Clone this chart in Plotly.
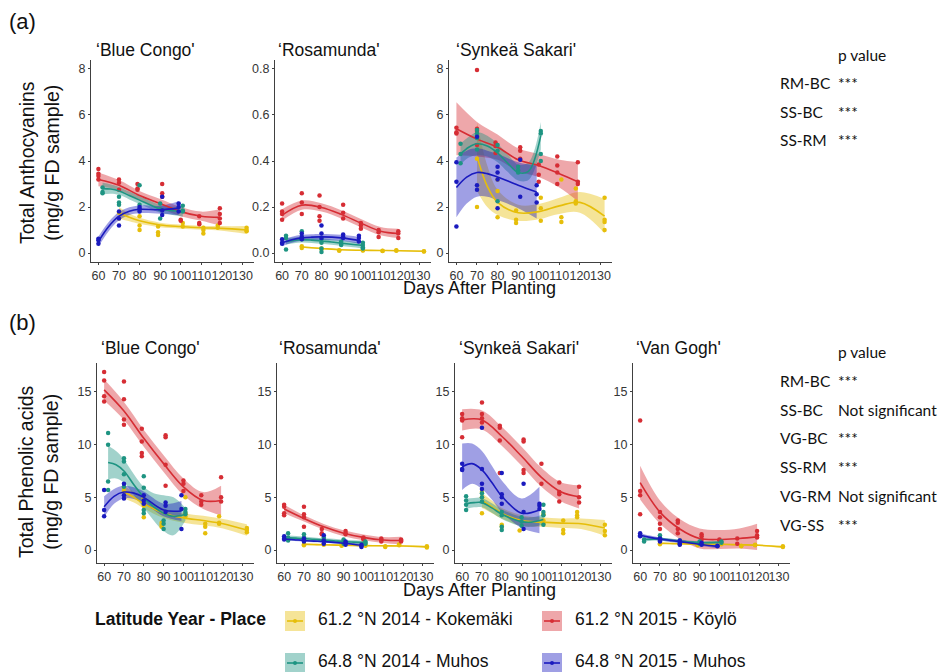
import plotly.graph_objects as go

# ---------------------------------------------------------------------------
# Sampling days of the four field trials
KOK_DAYS = [70, 80, 89, 101, 111, 118, 132]   # 61.2 N 2014 Kokemaki
KOY_DAYS = [60, 70, 79, 91, 100, 109, 119]    # 61.2 N 2015 Koylo
M14_DAYS = [62, 70, 80, 90, 101]              # 64.8 N 2014 Muhos
M15_DAYS = [60, 70, 80, 91, 99]               # 64.8 N 2015 Muhos

# Days at which the smoothed (loess) fits and their bands are tabulated
KOK_FIT_DAYS = [70, 75, 80, 90, 100, 110, 120, 132]
KOY_FIT_DAYS = [60, 70, 80, 90, 100, 110, 119]
M14_FIT_DAYS = [62, 66, 70, 75, 80, 85, 90, 95, 101]
M15_FIT_DAYS = [60, 65, 70, 75, 80, 90, 99]

X_TICKS = [60, 70, 80, 90, 100, 110, 120, 130]

# ---------------------------------------------------------------------------
# (a) Total anthocyanins, 'Blue Congo'
A_BC_KOK_PTS = [[1.75, 1.5], [1.6, 1.2, 1.0], [1.15, 0.9, 0.78], [1.3, 1.15], [1.1, 1.0, 0.85], [1.2, 1.1], [1.1, 1.0, 0.95]]
A_BC_KOK_FIT = [1.75, 1.55, 1.4, 1.22, 1.15, 1.1, 1.07, 1.0]
A_BC_KOK_CI = [0.25, 0.17, 0.13, 0.1, 0.09, 0.09, 0.1, 0.17]
A_BC_KOY_PTS = [[3.65, 3.45, 3.35, 3.2], [3.2, 3.05, 2.75], [3.0, 2.8, 2.75], [3.0, 2.6, 2.45], [1.45, 1.4], [1.6, 1.3, 1.25], [1.95, 1.7, 1.5, 1.3]]
A_BC_KOY_FIT = [3.2, 2.95, 2.5, 2.15, 1.8, 1.6, 1.55]
A_BC_KOY_CI = [0.3, 0.22, 0.2, 0.2, 0.2, 0.2, 0.35]
A_BC_M14_PTS = [[2.85, 2.65, 2.6], [2.45, 2.2, 2.1], [2.95, 2.1, 1.9], [2.15, 1.9, 1.5], [2.05, 1.85, 1.8]]
A_BC_M14_FIT = [2.8, 2.78, 2.7, 2.5, 2.3, 2.1, 1.92, 1.85, 1.8]
A_BC_M14_CI = [0.25, 0.2, 0.17, 0.17, 0.17, 0.17, 0.17, 0.17, 0.22]
A_BC_M15_PTS = [[0.62, 0.55, 0.4], [1.8, 1.5, 1.2], [2.0, 1.9, 1.8], [2.45, 1.85, 1.65], [2.15, 2.0, 1.8]]
A_BC_M15_FIT = [0.5, 1.15, 1.6, 1.82, 1.9, 1.88, 1.95]
A_BC_M15_CI = [0.22, 0.2, 0.18, 0.17, 0.17, 0.17, 0.3]

# (a) Total anthocyanins, 'Rosamunda'
A_RM_KOK_PTS = [[0.03, 0.022], [0.02, 0.018], [0.012, 0.01], [0.012, 0.011], [0.01, 0.009], [0.012, 0.01], [0.008, 0.007]]
A_RM_KOK_FIT = [0.026, 0.023, 0.02, 0.014, 0.012, 0.011, 0.01, 0.008]
A_RM_KOK_CI = [0.004, 0.003, 0.003, 0.002, 0.002, 0.002, 0.002, 0.003]
A_RM_KOY_PTS = [[0.215, 0.18, 0.17, 0.145], [0.26, 0.22, 0.17], [0.25, 0.2, 0.16, 0.14], [0.21, 0.175, 0.15], [0.13, 0.12, 0.105], [0.1, 0.09, 0.07], [0.095, 0.085, 0.065]]
A_RM_KOY_FIT = [0.165, 0.208, 0.198, 0.168, 0.13, 0.095, 0.085]
A_RM_KOY_CI = [0.025, 0.02, 0.018, 0.018, 0.018, 0.018, 0.02]
A_RM_M14_PTS = [[0.075, 0.065, 0.015], [0.095, 0.07, 0.06], [0.06, 0.045, 0.02, 0.005], [0.05, 0.04, 0.035], [0.045, 0.035, 0.025, 0.02]]
A_RM_M14_FIT = [0.05, 0.055, 0.058, 0.056, 0.052, 0.048, 0.043, 0.038, 0.033]
A_RM_M14_CI = [0.013, 0.012, 0.012, 0.012, 0.012, 0.012, 0.012, 0.012, 0.013]
A_RM_M15_PTS = [[0.06, 0.045, 0.04], [0.085, 0.07, 0.06], [0.12, 0.085, 0.065], [0.08, 0.07, 0.065], [0.075, 0.065, 0.05]]
A_RM_M15_FIT = [0.045, 0.058, 0.066, 0.069, 0.07, 0.066, 0.055]
A_RM_M15_CI = [0.015, 0.013, 0.013, 0.013, 0.013, 0.013, 0.015]

# (a) Total anthocyanins, 'Synkea Sakari'
A_SS_KOK_PTS = [[4.1, 2.0], [3.2, 2.7, 1.55], [1.85, 1.45, 1.3], [2.4, 1.95, 1.4], [3.2, 1.55, 1.35], [2.8, 2.25, 2.15], [2.4, 1.45, 1.35, 1.0]]
A_SS_KOK_FIT = [4.2, 2.9, 2.2, 1.75, 1.8, 2.05, 2.2, 1.6]
A_SS_KOK_CI = [1.5, 0.9, 0.55, 0.35, 0.33, 0.35, 0.45, 0.75]
A_SS_KOY_PTS = [[5.45, 5.25, 5.2], [7.95, 5.4, 5.3, 4.7], [4.8, 4.65, 4.35], [4.6, 4.45, 4.1], [3.85, 3.4, 3.1], [4.2, 3.8, 3.5, 3.0], [3.95, 3.1, 3.0]]
A_SS_KOY_FIT = [5.4, 4.95, 4.6, 4.05, 3.8, 3.45, 3.1]
A_SS_KOY_CI = [1.15, 0.75, 0.55, 0.5, 0.5, 0.6, 0.85]
A_SS_M14_PTS = [[4.75, 4.3, 3.9], [5.35, 5.2, 5.0, 4.5], [4.7, 4.45, 2.25], [3.75, 3.6, 3.5], [5.3, 5.2, 4.3, 4.0]]
A_SS_M14_FIT = [4.3, 4.6, 4.75, 4.65, 4.35, 3.9, 3.5, 3.55, 5.1]
A_SS_M14_CI = [0.45, 0.45, 0.5, 0.45, 0.4, 0.38, 0.35, 0.38, 0.6]
A_SS_M15_PTS = [[3.95, 3.1, 1.15], [5.05, 2.95, 2.75], [3.75, 3.5, 3.2, 1.95], [4.05, 2.45], [2.95, 2.55, 2.2]]
A_SS_M15_FIT = [2.85, 3.3, 3.5, 3.45, 3.3, 2.95, 2.65]
A_SS_M15_CI = [1.3, 1.15, 1.05, 1.0, 1.0, 1.0, 1.15]

# (b) Total phenolic acids, 'Blue Congo'
B_BC_KOK_PTS = [[5.9, 5.6], [4.9, 4.2, 3.1], [2.6, 2.4, 2.2], [5.0, 3.5, 3.2], [2.5, 2.2, 1.6], [3.2, 2.6, 2.5], [2.1, 1.9, 1.7]]
B_BC_KOK_FIT = [5.5, 5.0, 4.4, 3.5, 3.05, 2.8, 2.5, 1.9]
B_BC_KOK_CI = [0.6, 0.5, 0.45, 0.45, 0.45, 0.45, 0.45, 0.55]
B_BC_KOY_PTS = [[16.9, 16.1, 14.6, 14.1], [16.0, 14.3, 12.4, 11.9], [11.5, 10.3, 9.2, 8.9], [10.9, 10.7, 8.1, 6.1], [6.6, 6.3, 5.6], [5.2, 4.6, 4.3], [6.9, 5.0, 4.6]]
B_BC_KOY_FIT = [15.2, 13.2, 10.6, 8.2, 6.0, 4.7, 4.7]
B_BC_KOY_CI = [1.0, 0.85, 0.8, 0.8, 0.8, 0.8, 1.4]
B_BC_M14_PTS = [[11.1, 10.0, 6.5, 5.7], [8.7, 8.4, 7.2, 6.0], [7.0, 5.9, 3.8, 3.5], [2.8, 2.5, 2.0], [3.9, 3.6, 3.4]]
B_BC_M14_FIT = [8.3, 8.1, 7.5, 6.2, 5.0, 4.1, 3.5, 3.2, 3.4]
B_BC_M14_CI = [1.6, 1.3, 1.1, 1.0, 1.0, 1.3, 1.7, 1.8, 0.6]
B_BC_M15_PTS = [[5.7, 3.8, 3.2], [6.3, 5.2, 4.9], [5.2, 4.7, 4.4], [4.5, 4.2, 3.6], [5.2, 3.9, 2.0]]
B_BC_M15_FIT = [4.1, 5.1, 5.5, 5.4, 5.0, 3.8, 3.7]
B_BC_M15_CI = [1.0, 0.7, 0.6, 0.55, 0.55, 0.6, 0.95]

# (b) Total phenolic acids, 'Rosamunda'
B_RM_KOK_PTS = [[0.55, 0.45], [0.6, 0.5], [0.45, 0.4], [0.5, 0.4], [0.35, 0.3], [0.55, 0.45], [0.35, 0.25]]
B_RM_KOK_FIT = [0.55, 0.52, 0.5, 0.45, 0.42, 0.4, 0.38, 0.3]
B_RM_KOK_CI = [0.1, 0.08, 0.07, 0.06, 0.06, 0.06, 0.07, 0.1]
B_RM_KOY_PTS = [[4.3, 4.1, 3.5, 3.3], [4.1, 3.4, 3.1, 2.2], [2.0, 1.6, 1.5], [1.8, 1.6, 1.5], [1.2, 1.1, 1.0], [1.1, 0.95, 0.8], [1.0, 0.9, 0.8]]
B_RM_KOY_FIT = [3.9, 3.0, 2.2, 1.6, 1.2, 0.95, 0.9]
B_RM_KOY_CI = [0.4, 0.3, 0.28, 0.28, 0.28, 0.28, 0.35]
B_RM_M14_PTS = [[1.6, 1.2, 0.9], [1.5, 1.2, 1.0], [1.2, 1.0, 0.9], [1.0, 0.8, 0.6], [0.8, 0.7, 0.6]]
B_RM_M14_FIT = [1.15, 1.13, 1.1, 1.02, 0.95, 0.88, 0.8, 0.75, 0.7]
B_RM_M14_CI = [0.22, 0.2, 0.18, 0.18, 0.18, 0.18, 0.18, 0.18, 0.2]
B_RM_M15_PTS = [[1.3, 1.1, 1.0], [1.1, 0.9, 0.8], [1.4, 0.9, 0.6], [0.8, 0.7, 0.5], [0.5, 0.4, 0.3]]
B_RM_M15_FIT = [1.05, 0.98, 0.9, 0.85, 0.8, 0.65, 0.45]
B_RM_M15_CI = [0.15, 0.13, 0.12, 0.12, 0.12, 0.12, 0.15]

# (b) Total phenolic acids, 'Synkea Sakari'
B_SS_KOK_PTS = [[5.5, 5.0, 3.5], [2.4, 2.2], [1.85], [3.4, 2.8, 2.5], [2.8, 1.9, 1.6], [3.6, 3.3, 3.1], [2.4, 1.8, 1.4]]
B_SS_KOK_FIT = [4.7, 4.1, 3.5, 2.8, 2.65, 2.55, 2.5, 2.1]
B_SS_KOK_CI = [0.7, 0.6, 0.5, 0.5, 0.45, 0.45, 0.5, 0.75]
B_SS_KOY_PTS = [[12.9, 12.5, 12.3, 10.7], [14.0, 12.9, 12.5, 12.1], [11.8, 11.6, 10.4, 7.3], [10.5, 10.3, 7.6, 7.3], [8.2, 6.3], [6.4, 5.5, 5.3, 4.6], [6.0, 5.0, 4.5]]
B_SS_KOY_FIT = [12.35, 12.35, 10.8, 8.9, 6.9, 5.5, 5.05]
B_SS_KOY_CI = [1.0, 0.9, 0.9, 0.9, 0.9, 0.9, 1.1]
B_SS_M14_PTS = [[5.1, 4.7, 4.3, 3.8], [5.4, 5.0, 4.6], [3.6, 3.3, 2.2, 1.9], [3.1, 2.7, 2.3], [4.3, 3.6, 3.3, 2.4]]
B_SS_M14_FIT = [4.4, 4.5, 4.5, 4.0, 3.4, 3.0, 2.7, 2.65, 2.9]
B_SS_M14_CI = [0.5, 0.45, 0.45, 0.45, 0.45, 0.45, 0.45, 0.45, 0.5]
B_SS_M15_PTS = [[8.2, 7.7, 7.6], [11.6, 7.7, 6.3, 5.8], [7.3, 5.3, 5.0, 4.4], [6.3, 3.6, 2.0], [4.4, 4.2, 3.9]]
B_SS_M15_FIT = [7.9, 8.2, 7.6, 6.4, 5.1, 3.5, 3.8]
B_SS_M15_CI = [2.2, 1.9, 1.8, 1.6, 1.5, 1.4, 2.2]

# (b) Total phenolic acids, 'Van Gogh'
B_VG_KOK_PTS = [[0.65, 0.55], [0.6, 0.55], [0.5, 0.45], [0.6, 0.55], [0.4, 0.35], [0.5, 0.45], [0.35, 0.3]]
B_VG_KOK_FIT = [0.65, 0.62, 0.6, 0.55, 0.55, 0.5, 0.45, 0.3]
B_VG_KOK_CI = [0.1, 0.08, 0.07, 0.06, 0.06, 0.06, 0.07, 0.1]
B_VG_KOY_PTS = [[12.3, 5.6, 5.2, 3.4], [3.6, 3.1, 2.5, 2.0], [2.8, 2.6, 2.0, 1.6], [1.5, 1.3, 1.0], [1.0, 0.9], [1.1, 0.6], [1.8, 1.4, 1.2]]
B_VG_KOY_FIT = [6.4, 3.6, 2.0, 1.1, 1.0, 1.1, 1.25]
B_VG_KOY_CI = [1.6, 1.1, 0.95, 0.95, 0.9, 0.95, 1.25]
B_VG_M14_PTS = [[1.0, 0.8], [1.4, 1.2, 1.0], [0.9, 0.7], [0.8, 0.6], [0.8, 0.7]]
B_VG_M14_FIT = [1.0, 1.03, 1.05, 0.95, 0.85, 0.77, 0.7, 0.7, 0.75]
B_VG_M14_CI = [0.17, 0.15, 0.14, 0.14, 0.14, 0.14, 0.14, 0.14, 0.16]
B_VG_M15_PTS = [[1.6, 1.4, 1.3], [1.1, 0.9, 0.8], [0.9, 0.6, 0.5], [0.7, 0.5], [0.4, 0.35]]
B_VG_M15_FIT = [1.4, 1.2, 1.05, 0.92, 0.8, 0.55, 0.35]
B_VG_M15_CI = [0.2, 0.17, 0.15, 0.15, 0.15, 0.15, 0.18]

# Pairwise cultivar comparisons
A_PAIRS = ["RM-BC", "SS-BC", "SS-RM"]
A_PVALS = ["***", "***", "***"]
B_PAIRS = ["RM-BC", "SS-BC", "VG-BC", "SS-RM", "VG-RM", "VG-SS"]
B_PVALS = ["***", "Not significant", "***", "***", "Not significant", "***"]

GROUP_KEYS = ["kok", "koy", "m14", "m15"]
GROUP_LABELS = ["61.2 °N 2014 - Kokemäki", "61.2 °N 2015 - Köylö",
                "64.8 °N 2014 - Muhos", "64.8 °N 2015 - Muhos"]

# ---------------------------------------------------------------------------
W, H = 948, 672
FONT = "Liberation Sans, Arial, sans-serif"
TABLE_FONT = "Lato, Open Sans, sans-serif"
AXIS_COLOR = "#404040"
TICK_COLOR = "#363636"
BAND_ALPHA = 0.42

GROUP_STYLE = {
    "kok": dict(rgb=(230, 190, 10), days=KOK_DAYS, fit_days=KOK_FIT_DAYS),
    "koy": dict(rgb=(214, 45, 52), days=KOY_DAYS, fit_days=KOY_FIT_DAYS),
    "m14": dict(rgb=(30, 148, 130), days=M14_DAYS, fit_days=M14_FIT_DAYS),
    "m15": dict(rgb=(26, 26, 190), days=M15_DAYS, fit_days=M15_FIT_DAYS),
}


def rgb(c, a=None):
    if a is None:
        return "rgb(%d,%d,%d)" % c
    return "rgba(%d,%d,%d,%.2f)" % (c[0], c[1], c[2], a)


def px_x(p):
    return p / W


def px_y(p):
    return 1 - p / H


A_Y = dict(range=[-0.39, 8.39], tickvals=[0, 2, 4, 6, 8], ticktext=["0", "2", "4", "6", "8"])
A_Y_RM = dict(range=[-0.039, 0.839], tickvals=[0, 0.2, 0.4, 0.6, 0.8],
              ticktext=["0.0", "0.2", "0.4", "0.6", "0.8"])
B_Y = dict(range=[-1.23, 17.75], tickvals=[0, 5, 10, 15], ticktext=["0", "5", "10", "15"])

# panel boxes in pixels: left, right, top, bottom; title anchor in pixels
PANELS = [
    dict(title="‘Blue Congo'", box=(91, 254, 60, 262), tpos=(94, 50), y=A_Y,
         data={"kok": (A_BC_KOK_PTS, A_BC_KOK_FIT, A_BC_KOK_CI), "koy": (A_BC_KOY_PTS, A_BC_KOY_FIT, A_BC_KOY_CI),
               "m14": (A_BC_M14_PTS, A_BC_M14_FIT, A_BC_M14_CI), "m15": (A_BC_M15_PTS, A_BC_M15_FIT, A_BC_M15_CI)}),
    dict(title="‘Rosamunda'", box=(275, 431, 60, 262), tpos=(276, 50), y=A_Y_RM,
         data={"kok": (A_RM_KOK_PTS, A_RM_KOK_FIT, A_RM_KOK_CI), "koy": (A_RM_KOY_PTS, A_RM_KOY_FIT, A_RM_KOY_CI),
               "m14": (A_RM_M14_PTS, A_RM_M14_FIT, A_RM_M14_CI), "m15": (A_RM_M15_PTS, A_RM_M15_FIT, A_RM_M15_CI)}),
    dict(title="‘Synkeä Sakari'", box=(449, 612, 60, 262), tpos=(454, 50), y=A_Y,
         data={"kok": (A_SS_KOK_PTS, A_SS_KOK_FIT, A_SS_KOK_CI), "koy": (A_SS_KOY_PTS, A_SS_KOY_FIT, A_SS_KOY_CI),
               "m14": (A_SS_M14_PTS, A_SS_M14_FIT, A_SS_M14_CI), "m15": (A_SS_M15_PTS, A_SS_M15_FIT, A_SS_M15_CI)}),
    dict(title="‘Blue Congo'", box=(97, 254, 363, 563), tpos=(99, 348), y=B_Y,
         data={"kok": (B_BC_KOK_PTS, B_BC_KOK_FIT, B_BC_KOK_CI), "koy": (B_BC_KOY_PTS, B_BC_KOY_FIT, B_BC_KOY_CI),
               "m14": (B_BC_M14_PTS, B_BC_M14_FIT, B_BC_M14_CI), "m15": (B_BC_M15_PTS, B_BC_M15_FIT, B_BC_M15_CI)}),
    dict(title="‘Rosamunda'", box=(277, 434, 363, 563), tpos=(277, 348), y=B_Y,
         data={"kok": (B_RM_KOK_PTS, B_RM_KOK_FIT, B_RM_KOK_CI), "koy": (B_RM_KOY_PTS, B_RM_KOY_FIT, B_RM_KOY_CI),
               "m14": (B_RM_M14_PTS, B_RM_M14_FIT, B_RM_M14_CI), "m15": (B_RM_M15_PTS, B_RM_M15_FIT, B_RM_M15_CI)}),
    dict(title="‘Synkeä Sakari'", box=(455, 612, 363, 563), tpos=(457, 348), y=B_Y,
         data={"kok": (B_SS_KOK_PTS, B_SS_KOK_FIT, B_SS_KOK_CI), "koy": (B_SS_KOY_PTS, B_SS_KOY_FIT, B_SS_KOY_CI),
               "m14": (B_SS_M14_PTS, B_SS_M14_FIT, B_SS_M14_CI), "m15": (B_SS_M15_PTS, B_SS_M15_FIT, B_SS_M15_CI)}),
    dict(title="‘Van Gogh'", box=(633, 790, 363, 563), tpos=(634, 348), y=B_Y,
         data={"kok": (B_VG_KOK_PTS, B_VG_KOK_FIT, B_VG_KOK_CI), "koy": (B_VG_KOY_PTS, B_VG_KOY_FIT, B_VG_KOY_CI),
               "m14": (B_VG_M14_PTS, B_VG_M14_FIT, B_VG_M14_CI), "m15": (B_VG_M15_PTS, B_VG_M15_FIT, B_VG_M15_CI)}),
]

fig = go.Figure()
layout = {}
annotations = []
shapes = []


def add_text(x, y, s, size, color="#111111", family=FONT, xanchor="left", angle=0):
    annotations.append(dict(x=px_x(x), y=px_y(y), xref="paper", yref="paper", text=s,
                            showarrow=False, textangle=angle, xanchor=xanchor, yanchor="middle",
                            font=dict(family=family, size=size, color=color)))


for i, p in enumerate(PANELS, start=1):
    xa = "x" if i == 1 else "x%d" % i
    ya = "y" if i == 1 else "y%d" % i
    l, r, t, b = p["box"]
    axis_common = dict(showline=True, linecolor=AXIS_COLOR, linewidth=1, ticks="outside",
                       ticklen=2, tickwidth=1, tickcolor=AXIS_COLOR, showgrid=False, zeroline=False,
                       tickfont=dict(family=FONT, size=12.5, color=TICK_COLOR), fixedrange=True)
    layout["xaxis" if i == 1 else "xaxis%d" % i] = dict(
        axis_common, domain=[px_x(l), px_x(r)], anchor=ya, range=[56.4, 135.6],
        tickmode="array", tickvals=X_TICKS, ticktext=[str(v) for v in X_TICKS], tickangle=0)
    layout["yaxis" if i == 1 else "yaxis%d" % i] = dict(
        axis_common, domain=[px_y(b), px_y(t)], anchor=xa, range=p["y"]["range"],
        tickmode="array", tickvals=p["y"]["tickvals"], ticktext=p["y"]["ticktext"])

    # confidence bands of the smoothed fits
    for g in GROUP_KEYS:
        st = GROUP_STYLE[g]
        pts, fit, ci = p["data"][g]
        lower = [f - c for f, c in zip(fit, ci)]
        upper = [f + c for f, c in zip(fit, ci)]
        fig.add_trace(go.Scatter(x=st["fit_days"], y=lower, mode="lines", xaxis=xa, yaxis=ya,
                                 line=dict(width=0, shape="spline", color=rgb(st["rgb"])),
                                 hoverinfo="skip", showlegend=False))
        fig.add_trace(go.Scatter(x=st["fit_days"], y=upper, mode="lines", xaxis=xa, yaxis=ya,
                                 line=dict(width=0, shape="spline", color=rgb(st["rgb"])),
                                 fill="tonexty", fillcolor=rgb(st["rgb"], BAND_ALPHA),
                                 hoverinfo="skip", showlegend=False))
    # smoothed fits and replicate measurements
    for g in GROUP_KEYS:
        st = GROUP_STYLE[g]
        pts, fit, ci = p["data"][g]
        fig.add_trace(go.Scatter(x=st["fit_days"], y=fit, mode="lines", xaxis=xa, yaxis=ya,
                                 line=dict(width=1.6, shape="spline", color=rgb(st["rgb"])),
                                 showlegend=False))
        xs, ys = [], []
        for d, reps in zip(st["days"], pts):
            for v in reps:
                xs.append(d)
                ys.append(v)
        fig.add_trace(go.Scatter(x=xs, y=ys, mode="markers", xaxis=xa, yaxis=ya,
                                 marker=dict(size=4.5, color=rgb(st["rgb"])), showlegend=False))

    add_text(p["tpos"][0], p["tpos"][1], p["title"], 17.5)

# panel letters, axis titles
add_text(7, 21, "(a)", 22)
add_text(7, 322, "(b)", 22)
add_text(39, 163, "Total Anthocyanins<br>(mg/g FD sample)", 19.5, xanchor="center", angle=-90)
add_text(39, 472, "Total Phenolic acids<br>(mg/g FD sample)", 19.5, xanchor="center", angle=-90)
add_text(479, 288, "Days After Planting", 18, xanchor="center")
add_text(479, 590, "Days After Planting", 18, xanchor="center")

# p value tables
add_text(836, 55, "p value", 15.5, family=TABLE_FONT)
for k, (pair, pv) in enumerate(zip(A_PAIRS, A_PVALS)):
    y = 83 + k * 28.5
    add_text(778, y, pair, 15.5, family=TABLE_FONT)
    add_text(836, y, pv, 15.5, family=TABLE_FONT)
add_text(836, 352, "p value", 15.5, family=TABLE_FONT)
for k, (pair, pv) in enumerate(zip(B_PAIRS, B_PVALS)):
    y = 381 + k * 28.7
    add_text(778, y, pair, 15.5, family=TABLE_FONT)
    add_text(836, y, pv, 15.5, family=TABLE_FONT)

# legend
add_text(93, 619, "<b>Latitude Year - Place</b>", 17.5)
key_pos = [(285, 621), (542, 621), (285, 663), (542, 663)]
for (kx, ky), g, lab in zip(key_pos, GROUP_KEYS, GROUP_LABELS):
    c = GROUP_STYLE[g]["rgb"]
    shapes.append(dict(type="rect", xref="paper", yref="paper", x0=px_x(kx), x1=px_x(kx + 20),
                       y0=px_y(ky + 10), y1=px_y(ky - 10), fillcolor=rgb(c, BAND_ALPHA),
                       line=dict(width=0), layer="above"))
    shapes.append(dict(type="line", xref="paper", yref="paper", x0=px_x(kx + 2), x1=px_x(kx + 18),
                       y0=px_y(ky), y1=px_y(ky), line=dict(color=rgb(c), width=1.6), layer="above"))
    shapes.append(dict(type="circle", xref="paper", yref="paper", x0=px_x(kx + 8), x1=px_x(kx + 12),
                       y0=px_y(ky + 2), y1=px_y(ky - 2), fillcolor=rgb(c), line=dict(width=0),
                       layer="above"))
    add_text(kx + 31, ky - 2, lab, 17.5)

fig.update_layout(
    width=W, height=H, autosize=False,
    margin=dict(l=0, r=0, t=0, b=0),
    paper_bgcolor="white", plot_bgcolor="white",
    showlegend=False,
    font=dict(family=FONT, color="#111111"),
    annotations=annotations, shapes=shapes,
    **layout,
)

fig.write_html("out.html")
